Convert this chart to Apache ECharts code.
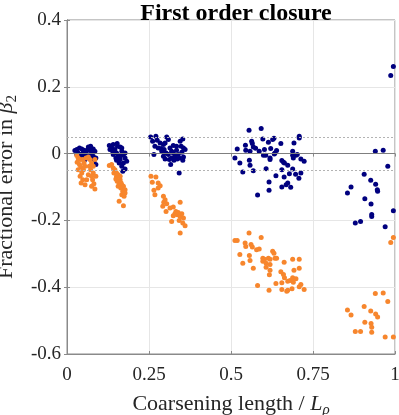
<!DOCTYPE html>
<html>
<head>
<meta charset="utf-8">
<script src="https://cdn.jsdelivr.net/npm/echarts@6/dist/echarts.min.js"></script>
<style>html,body{margin:0;padding:0;background:#fff}#c{width:399px;height:415px}</style>
</head>
<body>
<div id="c"></div>
<script>
var titleText = 'First order closure';
var xTickLabels = ['0', '0.25', '0.5', '0.75', '1'];
var yTickLabels = ['-0.6', '-0.4', '-0.2', '0', '0.2', '0.4'];
var refLines = [0, 0.05, -0.05];

// blue (dark navy) series, grouped by coarsening cluster
var blueX = [
  0.030,0.038,0.045,0.052,0.034,0.042,0.050,0.058,0.065,0.072,0.080,0.085,0.075,0.068,0.060,0.080,0.088,0.082,0.075,0.055,0.040,0.030,0.048,0.070,0.088,0.062,0.024,
  0.129,0.141,0.153,0.162,0.146,0.136,0.151,0.167,0.172,0.156,0.177,0.162,0.172,0.167,0.159,0.182,0.149,0.141,0.131,0.170,0.177,0.154,0.167,0.177,0.151,0.163,0.139,
  0.255,0.271,0.261,0.275,0.284,0.268,0.278,0.294,0.304,0.309,0.296,0.289,0.302,0.314,0.319,0.324,0.334,0.345,0.353,0.355,0.350,0.339,0.329,0.319,0.312,0.299,0.294,0.309,0.324,0.334,0.342,0.355,0.360,0.316,0.342,0.265,0.287,0.299,0.326,0.353,0.336,0.348,
  0.555,0.592,0.519,0.544,0.545,0.558,0.563,0.565,0.568,0.575,0.586,0.597,0.602,0.599,0.606,0.614,0.621,0.619,0.619,0.627,0.631,0.634,0.639,0.632,0.652,0.655,0.660,0.663,0.673,0.688,0.688,0.692,0.698,0.702,0.708,0.708,0.713,0.723,0.512,0.527,0.556,0.558,0.536,0.568,0.607,0.655,0.637,0.662,0.673,0.668,0.678,0.688,0.697,0.713,0.707,0.616,0.616,0.581,0.655,0.682,0.690,
  0.995,0.987,0.940,0.964,0.978,0.906,0.926,0.941,0.946,0.947,0.866,0.855,0.908,0.927,0.929,0.929,0.995,0.879,0.895,0.970
];
var blueY = [
  0.012,0.017,0.014,0.010,0.002,-0.003,0.004,0.000,0.020,0.022,0.014,0.007,0.002,-0.006,-0.010,-0.008,-0.013,-0.023,-0.018,-0.018,-0.013,-0.003,-0.008,0.010,-0.033,0.010,0.009,
  0.024,0.027,0.030,0.020,0.012,0.017,0.002,0.007,-0.003,-0.008,-0.013,-0.018,-0.028,-0.038,-0.028,-0.023,-0.013,-0.003,0.012,-0.053,-0.046,0.022,0.017,0.002,-0.020,-0.008,0.007,
  0.050,0.052,0.037,0.040,0.032,0.022,0.017,0.027,0.050,0.042,0.012,0.007,0.002,0.017,0.007,0.024,0.022,0.037,0.044,0.017,0.004,-0.003,-0.008,-0.013,-0.018,-0.016,-0.008,-0.003,0.002,0.010,-0.013,-0.010,0.012,-0.033,-0.058,-0.003,0.015,0.032,-0.020,-0.020,-0.016,0.022,
  0.070,0.075,0.014,0.025,0.010,0.007,0.037,0.030,0.020,0.016,0.007,0.044,0.012,-0.005,-0.005,0.034,0.015,-0.013,-0.018,0.042,0.046,0.002,0.009,-0.001,0.030,-0.021,-0.026,-0.028,-0.035,0.007,-0.005,0.032,-0.005,-0.003,0.052,0.047,-0.016,-0.023,-0.013,-0.028,-0.020,-0.035,-0.055,-0.051,-0.045,-0.048,-0.066,-0.070,-0.088,-0.093,-0.060,-0.046,-0.062,-0.058,-0.074,-0.085,-0.110,-0.124,-0.100,-0.101,-0.013,
  0.261,0.234,0.007,0.010,-0.038,-0.062,-0.080,-0.092,-0.108,-0.113,-0.100,-0.118,-0.135,-0.151,-0.182,-0.188,-0.171,-0.208,-0.203,-0.219
];

// orange series, grouped by coarsening cluster
var orangeX = [
  0.030,0.034,0.040,0.031,0.038,0.042,0.034,0.045,0.040,0.043,0.048,0.055,0.050,0.052,0.058,0.065,0.070,0.075,0.068,0.072,0.080,0.075,0.078,0.082,0.085,0.088,0.065,0.060,0.055,0.048,0.080,0.085,0.075,
  0.129,0.136,0.141,0.146,0.143,0.151,0.156,0.162,0.153,0.159,0.167,0.172,0.164,0.170,0.177,0.167,0.174,0.159,0.172,0.151,0.149,0.162,0.156,0.177,0.165,
  0.256,0.271,0.278,0.260,0.284,0.265,0.268,0.278,0.294,0.299,0.295,0.292,0.304,0.314,0.302,0.324,0.332,0.345,0.336,0.324,0.345,0.355,0.342,0.353,0.319,0.360,0.345,0.329,0.339,0.350,
  0.555,0.512,0.519,0.592,0.543,0.545,0.561,0.565,0.578,0.586,0.527,0.556,0.558,0.536,0.568,0.597,0.602,0.597,0.607,0.614,0.619,0.627,0.631,0.634,0.639,0.619,0.619,0.617,0.607,0.662,0.688,0.708,0.652,0.660,0.663,0.673,0.680,0.688,0.692,0.690,0.698,0.708,0.713,0.708,0.723,0.655,0.637,0.655,0.670,0.673,0.686,0.616,0.581,
  0.995,0.987,0.940,0.964,0.978,0.906,0.926,0.941,0.947,0.855,0.866,0.908,0.927,0.929,0.929,0.879,0.895,0.970,0.995
];
var orangeY = [
  -0.006,-0.013,-0.018,-0.026,-0.033,-0.040,-0.048,-0.058,-0.068,-0.088,-0.078,-0.093,-0.048,-0.028,-0.013,-0.010,-0.018,-0.028,-0.038,-0.048,-0.058,-0.068,-0.078,-0.090,-0.106,-0.068,-0.063,-0.078,-0.038,-0.018,-0.038,-0.018,-0.098,
  -0.036,-0.033,-0.043,-0.048,-0.058,-0.068,-0.063,-0.078,-0.083,-0.090,-0.093,-0.098,-0.103,-0.113,-0.108,-0.123,-0.128,-0.143,-0.156,-0.058,-0.076,-0.068,-0.098,-0.118,-0.088,
  -0.068,-0.070,-0.088,-0.086,-0.096,-0.110,-0.123,-0.103,-0.128,-0.138,-0.146,-0.158,-0.150,-0.163,-0.173,-0.160,-0.173,-0.146,-0.183,-0.186,-0.188,-0.193,-0.200,-0.208,-0.203,-0.216,-0.238,-0.180,-0.176,-0.180,
  -0.238,-0.260,-0.260,-0.251,-0.268,-0.278,-0.272,-0.280,-0.288,-0.286,-0.302,-0.305,-0.320,-0.328,-0.343,-0.313,-0.316,-0.322,-0.328,-0.313,-0.316,-0.292,-0.298,-0.313,-0.313,-0.332,-0.349,-0.363,-0.340,-0.325,-0.316,-0.316,-0.354,-0.362,-0.372,-0.382,-0.380,-0.372,-0.349,-0.385,-0.375,-0.343,-0.392,-0.399,-0.407,-0.387,-0.389,-0.407,-0.412,-0.409,-0.405,-0.409,-0.395,
  -0.251,-0.266,-0.419,-0.417,-0.443,-0.458,-0.471,-0.480,-0.489,-0.468,-0.483,-0.505,-0.509,-0.520,-0.535,-0.533,-0.533,-0.549,-0.549
];

function pairs(xs, ys) { return xs.map(function (x, i) { return [x, ys[i]]; }); }

var FONT = '"Liberation Serif", "DejaVu Serif", serif';
var AXC = '#8a8a8a';
var TXT = '#262626';
var chart = echarts.init(document.getElementById('c'), null, { renderer: 'canvas' });

var xFmt = function (v) { var i = Math.round(v / 0.25); return xTickLabels[i] !== undefined ? xTickLabels[i] : ''; };
var yFmt = function (v) { var i = Math.round((v + 0.6) / 0.2); return yTickLabels[i] !== undefined ? yTickLabels[i] : ''; };

var nameRich = {
  n: { fontFamily: FONT, fontSize: 22, color: TXT, lineHeight: 25, verticalAlign: 'top' },
  i: { fontFamily: FONT, fontSize: 22, fontStyle: 'italic', color: TXT, lineHeight: 25, verticalAlign: 'top' },
  s: { fontFamily: FONT, fontSize: 15, fontStyle: 'italic', color: TXT, lineHeight: 15, padding: [13, 0, 0, 0], verticalAlign: 'bottom' },
  s2: { fontFamily: FONT, fontSize: 15, color: TXT, lineHeight: 15, padding: [13, 0, 0, 0], verticalAlign: 'bottom' }
};

chart.setOption({
  animation: false,
  backgroundColor: '#fff',
  title: {
    text: titleText, left: 231, top: -3, textAlign: 'center',
    textStyle: { fontFamily: FONT, fontWeight: 'bold', fontSize: 24, color: '#000' }
  },
  grid: { left: 67, right: 4, top: 20, bottom: 61, containLabel: false, outerBoundsMode: 'none', show: true, borderColor: AXC, borderWidth: 1, backgroundColor: 'transparent' },
  xAxis: [{
    type: 'value', min: 0, max: 1, interval: 0.25,
    axisLine: { show: true, onZero: false, lineStyle: { color: AXC } },
    axisTick: { show: true, inside: true, length: 3, lineStyle: { color: AXC } },
    splitLine: { show: true, lineStyle: { color: '#e6e6e6', width: 1 } },
    axisLabel: { formatter: xFmt, fontFamily: FONT, fontSize: 19, color: TXT, margin: 12 },
    name: '{n|Coarsening length / }{i|L}{s|ρ}', nameLocation: 'middle', nameGap: 30,
    nameTextStyle: { rich: nameRich }
  }, {
    type: 'value', min: 0, max: 1, interval: 0.25, position: 'top',
    axisLine: { show: true, lineStyle: { color: AXC } },
    axisTick: { show: true, inside: true, length: 3, lineStyle: { color: AXC } },
    axisLabel: { show: false }, splitLine: { show: false }
  }],
  yAxis: [{
    type: 'value', min: -0.6, max: 0.4, interval: 0.2,
    axisLine: { show: true, onZero: false, lineStyle: { color: AXC } },
    axisTick: { show: true, inside: true, length: 3, lineStyle: { color: AXC } },
    splitLine: { show: true, lineStyle: { color: '#e6e6e6', width: 1 } },
    axisLabel: { formatter: yFmt, fontFamily: FONT, fontSize: 19, color: TXT, margin: 6 },
    name: '{n|Fractional error in }{i|β}{s2|2}', nameLocation: 'middle', nameGap: 38,
    nameTextStyle: { rich: nameRich }
  }, {
    type: 'value', min: -0.6, max: 0.4, interval: 0.2, position: 'right',
    axisLine: { show: true, lineStyle: { color: AXC } },
    axisTick: { show: true, inside: true, length: 3, lineStyle: { color: AXC } },
    axisLabel: { show: false }, splitLine: { show: false }
  }],
  series: [{
    type: 'scatter', symbol: 'circle', symbolSize: 4, data: [], silent: true,
    markLine: {
      silent: true, symbol: 'none', label: { show: false }, animation: false,
      data: [
        { yAxis: refLines[0], lineStyle: { color: '#7f7f7f', type: 'solid', width: 1 } },
        { yAxis: refLines[1], lineStyle: { color: '#b3b3b3', type: [2, 2], width: 1 } },
        { yAxis: refLines[2], lineStyle: { color: '#b3b3b3', type: [2, 2], width: 1 } }
      ]
    }
  }, {
    name: 'blue', type: 'scatter', symbol: 'circle', symbolSize: 5,
    itemStyle: { color: '#00007f', opacity: 1 }, data: pairs(blueX, blueY), clip: true
  }, {
    name: 'orange', type: 'scatter', symbol: 'circle', symbolSize: 5,
    itemStyle: { color: '#f7862d', opacity: 1 }, data: pairs(orangeX, orangeY), clip: true
  }]
});
</script>
</body>
</html>
